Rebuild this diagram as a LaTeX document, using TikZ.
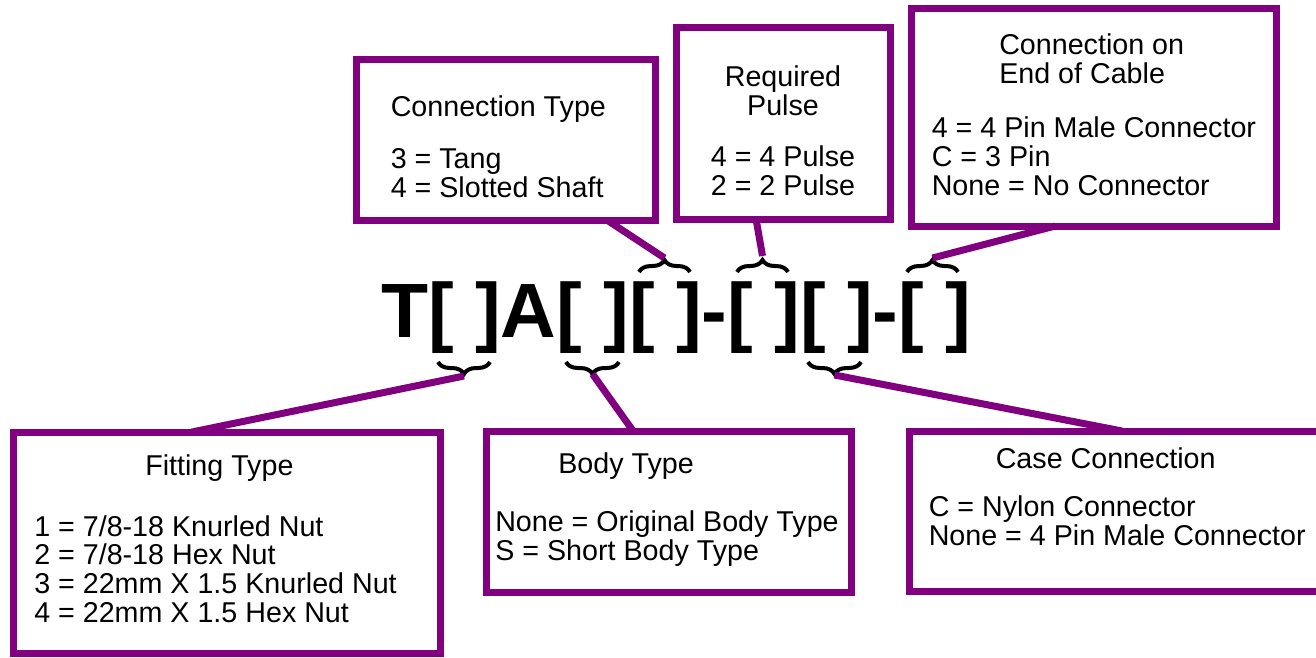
\documentclass[tikz,border=0pt]{standalone}
\usepackage{fontspec}
\setmainfont{Liberation Sans}
\usetikzlibrary{calc,decorations.pathreplacing}
\definecolor{codepurple}{RGB}{128,0,128}

\begin{document}
\begin{tikzpicture}[x=0.75pt, y=-0.75pt,
    box/.style 2 args={draw=codepurple, line width=5.25pt, rectangle, inner sep=0pt, outer sep=0pt,
      minimum width=#1*0.75pt, minimum height=#2*0.75pt},
    txt/.style={inner sep=0pt, anchor=base west, align=left, font=\fontsize{21.5}{21.5}\selectfont},
    link/.style={draw=codepurple, line width=5.25pt},
    grp/.style={draw=black, line width=3pt, decorate, decoration={brace, amplitude=9pt}}]
   \useasboundingbox (0,0) rectangle (1316,657);
   % the part number
   \node[inner sep=0pt, anchor=base west, font=\fontsize{57.75}{60}\selectfont\bfseries] (code) at (381,337) {T[ ]A[ ][ ]-[ ][ ]-[ ]};
   % braces over and under the blanks
   \draw[grp] (639,272) -- (690,272);
   \draw[grp] (737,272) -- (788,272);
   \draw[grp] (907,272) -- (958,272);
   \draw[grp] (490,362) -- (438,362);
   \draw[grp] (619,362) -- (566,362);
   \draw[grp] (861,362) -- (808,362);
   \coordinate (tip3) at (664.5,258);
   \coordinate (tip4) at (762.5,256);
   \coordinate (tip6) at (932.5,258);
   \coordinate (tip1) at (464,376);
   \coordinate (tip2) at (592.5,374);
   \coordinate (tip5) at (834.5,375);
   % option boxes
   \node[box={299}{161}] (ctype) at (505.5,139.5) {};
   \node[box={214}{192}] (pulse) at (783,123) {};
   \node[box={365}{218}] (cable) at (1093.5,117) {};
   \node[box={427}{221}] (fitting) at (226.5,542.5) {};
   \node[box={365}{161}] (body) at (668.5,511.5) {};
   \node[box={426}{160}] (case) at (1122,511) {};
   % texts (base = last line)
   \node[txt] (ctypet) at (390.5,116) {Connection Type};
   \node[txt] (ctypel) at (390.5,197) {3 = Tang\\4 = Slotted Shaft};
   \node[txt, anchor=base, align=center] (pulset) at (783,115) {Required\\Pulse};
   \node[txt, anchor=base, align=center] (pulsel) at (783,195) {4 = 4 Pulse\\2 = 2 Pulse};
   \node[txt] (cablet) at (999,83) {Connection on\\End of Cable};
   \node[txt] (cablel) at (931.5,195) {4 = 4 Pin Male Connector\\C = 3 Pin\\None = No Connector};
   \node[txt] (fittingt) at (145,475) {Fitting Type};
   \node[txt] (fittingl) at (34,622) {1 = 7/8-18 Knurled Nut\\2 = 7/8-18 Hex Nut\\3 = 22mm X 1.5 Knurled Nut\\4 = 22mm X 1.5 Hex Nut};
   \node[txt] (bodyt) at (558,473) {Body Type};
   \node[txt] (bodyl) at (495,560) {None = Original Body Type\\S = Short Body Type};
   \node[txt] (caset) at (995.5,468) {Case Connection};
   \node[txt] (casel) at (928.5,545) {C = Nylon Connector\\None = 4 Pin Male Connector};
   % connectors
   \draw[link] ($(ctype.south west)!0.839!(ctype.south east)$) -- (tip3);
   \draw[link] ($(pulse.south west)!0.374!(pulse.south east)$) -- (tip4);
   \draw[link] ($(cable.south west)!0.395!(cable.south east)$) -- (tip6);
   \draw[link] (tip1) -- ($(fitting.north west)!0.419!(fitting.north east)$);
   \draw[link] (tip2) -- ($(body.north west)!0.403!(body.north east)$);
   \draw[link] (tip5) -- (case.north);
\end{tikzpicture}
\end{document}
